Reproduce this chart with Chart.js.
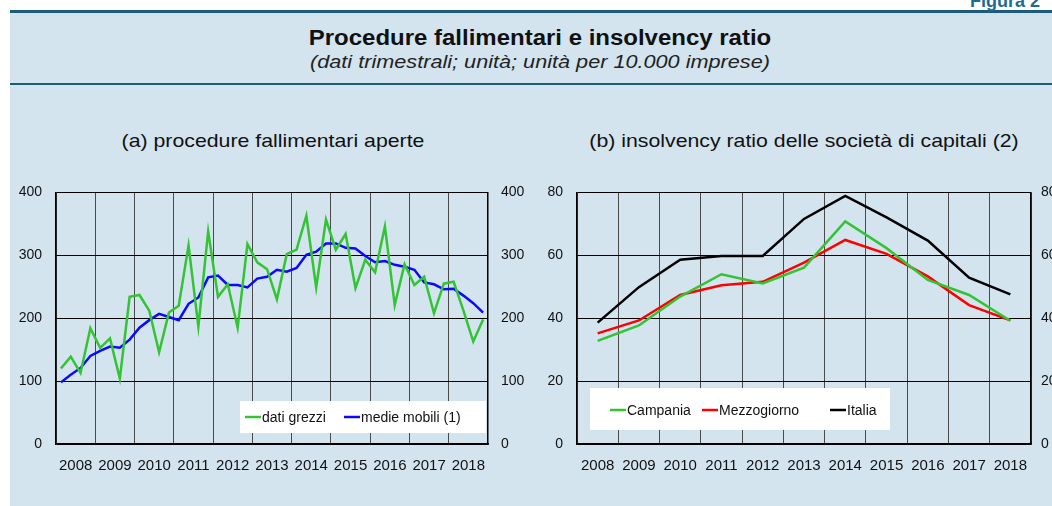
<!DOCTYPE html>
<html>
<head>
<meta charset="utf-8">
<script src="https://cdn.jsdelivr.net/npm/chart.js@4.4.1/dist/chart.umd.min.js"></script>
<style>
    body { margin: 0; width: 1052px; height: 506px; overflow: hidden; position: relative; background: #fff;
           font-family: "Liberation Sans", Arial, Helvetica, sans-serif; }
    #panel { position: absolute; left: 10px; top: 10px; width: 1042px; height: 496px; background: #d3e4ef;
             border-top: 3px solid #1d5b7b; box-sizing: border-box; }
    #rule { position: absolute; left: 10px; top: 83px; width: 1042px; height: 2px; background: #1d5b7b; }
    #fig { position: absolute; left: 970px; top: -9px; font-size: 18px; font-weight: bold; color: #1d6b93; white-space: nowrap; }
    .t { position: absolute; left: 10px; width: 1060px; text-align: center; white-space: nowrap; color: #111; }
    #title { top: 25px; font-size: 22px; font-weight: bold; transform: scaleX(1.09); }
    #subtitle { top: 51px; font-size: 19px; font-style: italic; color: #222; transform: scaleX(1.14); }
    .ct { position: absolute; top: 130px; font-size: 19px; white-space: nowrap; text-align: center; color: #111; transform: scaleX(1.12); }
    canvas { position: absolute; top: 180px; }
</style>
</head>
<body>
<div id="panel"></div>
<div id="rule"></div>
<div id="fig">Figura 2</div>
<div class="t" id="title">Procedure fallimentari e insolvency ratio</div>
<div class="t" id="subtitle">(dati trimestrali; unità; unità per 10.000 imprese)</div>
<div class="ct" style="left:73px;width:400px">(a) procedure fallimentari aperte</div>
<div class="ct" style="left:604px;width:400px">(b) insolvency ratio delle società di capitali (2)</div>
<canvas id="chartA" width="540" height="300" style="left:0px"></canvas>
<canvas id="chartB" width="522" height="300" style="left:530px"></canvas>
<script>
// years shown on the x axis
const years = ['2008', '2009', '2010', '2011', '2012', '2013', '2014', '2015', '2016', '2017', '2018'];
// quarterly categories for panel (a)
const quarters = years.flatMap(y => ['T1', 'T2', 'T3', 'T4'].map(q => q + ' ' + y));

// (a) procedure fallimentari aperte, unità
const datiGrezzi = [120, 139, 113, 184, 153, 168, 104, 234, 237, 212, 146, 209,
    220, 316, 187, 338, 234, 254, 185, 318, 289, 278, 230, 302,
    309, 363, 249, 357, 309, 334, 248, 293, 273, 346, 221, 286,
    253, 266, 208, 255, 258, 212, 163, 198];
const medieMobili = [98, 110, 121, 140, 148, 155, 153, 166, 185, 197, 207, 202,
    197, 223, 233, 265, 268, 253, 253, 249, 263, 266, 277, 274,
    280, 301, 306, 319, 319, 312, 311, 299, 289, 291, 285, 282,
    277, 257, 254, 246, 247, 236, 224, 209];

// (b) insolvency ratio, unità per 10.000 imprese
const campania = [32.8, 37.7, 46.9, 54.0, 51.1, 56.1, 70.8, 62.3, 52.2, 47.4, 39.2];
const mezzogiorno = [35.2, 39.3, 47.4, 50.5, 51.6, 57.7, 64.9, 60.5, 53.3, 44.2, 39.3];
const italia = [38.6, 49.9, 58.6, 59.8, 59.8, 71.6, 78.9, 72.1, 64.7, 52.9, 47.6];

const leftTicks = [0, 100, 200, 300, 400];
const rightTicks = [0, 20, 40, 60, 80];

const FONT = '"Liberation Sans", Arial, Helvetica, sans-serif';
Chart.defaults.font.family = FONT;
Chart.defaults.font.size = 14;
Chart.defaults.color = '#111';

// legend drawn inside the plot on a white box
const insideLegend = {
    id: 'insideLegend',
    beforeDatasetsDraw: (chart, args, opts) => {
        const ctx = chart.ctx;
        ctx.save();
        ctx.fillStyle = '#fff';
        ctx.fillRect(opts.box[0], opts.box[1], opts.box[2], opts.box[3]);
        ctx.font = '14px ' + FONT;
        ctx.textBaseline = 'middle';
        chart.data.datasets.forEach((ds, i) => {
            const x = opts.items[i];
            ctx.strokeStyle = ds.borderColor;
            ctx.lineWidth = 2.5;
            ctx.beginPath();
            ctx.moveTo(x, opts.y);
            ctx.lineTo(x + 16, opts.y);
            ctx.stroke();
            ctx.fillStyle = '#111';
            ctx.fillText(ds.label, x + 17, opts.y + 1);
        });
        ctx.restore();
    }
};

function yAxis(pos, ticks, width, pad, grid) {
    return {
        position: pos,
        min: ticks[0],
        max: ticks[ticks.length - 1],
        afterBuildTicks: (s) => { s.ticks = ticks.map(v => ({ value: v })); },
        afterFit: (s) => {
            s.width = width;
            // label overhang is handled by the layout padding below
            s.paddingTop = 0;
            s.paddingBottom = 0;
        },
        ticks: { padding: pad, color: '#111' },
        grid: { display: grid, color: '#000', lineWidth: 1, drawTicks: false },
        border: { display: true, color: '#000', width: 1.5 }
    };
}

function line(label, data, color) {
    return {
        label: label,
        data: data,
        borderColor: color,
        backgroundColor: color,
        borderWidth: 2.5,
        pointRadius: 0,
        tension: 0,
        xAxisID: 'x',
        yAxisID: 'y'
    };
}

const yearTicks = { padding: 13, autoSkip: false, maxRotation: 0, color: '#111', font: { size: 15 } };

// Panel (a)
new Chart(document.getElementById('chartA'), {
    type: 'line',
    data: {
        labels: quarters,
        datasets: [
            line('dati grezzi', datiGrezzi, '#33c433'),
            line('medie mobili (1)', medieMobili, '#0a0aff')
        ]
    },
    plugins: [insideLegend],
    options: {
        responsive: false,
        animation: false,
        devicePixelRatio: 1,
        layout: { padding: { top: 12.5, left: 0, right: 0, bottom: 0 } },
        plugins: {
            legend: { display: false },
            tooltip: { enabled: false },
            insideLegend: { box: [240, 221, 246, 32], items: [245, 344], y: 237 }
        },
        scales: {
            x: {
                type: 'category',
                position: 'bottom',
                weight: 0,
                offset: true,
                afterFit: (s) => { s.height = 0; },
                ticks: { display: false, autoSkip: false },
                grid: {
                    offset: true,
                    drawTicks: false,
                    lineWidth: 1,
                    color: (c) => c.index % 4 === 0 ? '#4a4a4a' : 'rgba(0,0,0,0)'
                },
                border: { display: true, color: '#000', width: 1.5 }
            },
            xYear: {
                type: 'category',
                labels: years,
                position: 'bottom',
                weight: 1,
                offset: true,
                afterFit: (s) => { s.height = 36; },
                ticks: yearTicks,
                grid: { display: false, drawTicks: false },
                border: { display: false }
            },
            y: yAxis('left', leftTicks, 56, 14, true),
            y1: yAxis('right', leftTicks, 52, 13, false)
        }
    }
});

// Panel (b)
new Chart(document.getElementById('chartB'), {
    type: 'line',
    data: {
        labels: years,
        datasets: [
            line('Campania', campania, '#33c433'),
            line('Mezzogiorno', mezzogiorno, '#ff0000'),
            line('Italia', italia, '#000000')
        ]
    },
    plugins: [insideLegend],
    options: {
        responsive: false,
        animation: false,
        devicePixelRatio: 1,
        layout: { padding: { top: 12.5, left: 0, right: 0, bottom: 0 } },
        plugins: {
            legend: { display: false },
            tooltip: { enabled: false },
            insideLegend: { box: [60, 208, 300, 42], items: [80, 172, 300], y: 230 }
        },
        scales: {
            x: {
                type: 'category',
                position: 'bottom',
                offset: true,
                afterFit: (s) => { s.height = 36; },
                ticks: yearTicks,
                grid: { offset: true, drawTicks: false, lineWidth: 1, color: '#4a4a4a' },
                border: { display: true, color: '#000', width: 1.5 }
            },
            y: yAxis('left', rightTicks, 47, 14, true),
            y1: yAxis('right', rightTicks, 21, 10, false)
        }
    }
});
</script>
</body>
</html>
